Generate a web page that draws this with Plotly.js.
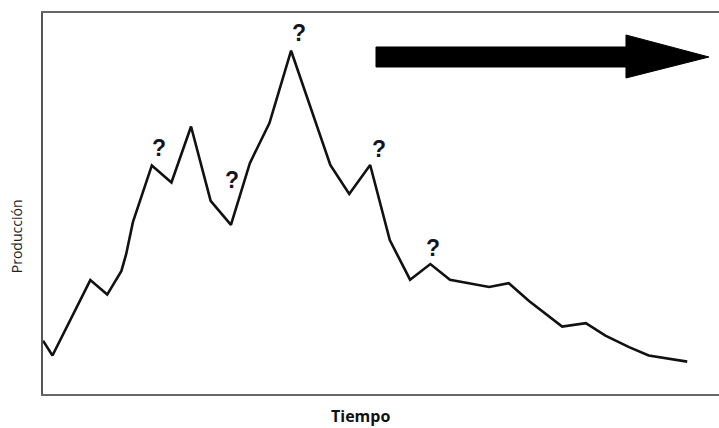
<!DOCTYPE html>
<html>
<head>
<meta charset="utf-8">
<script src="https://cdn.plot.ly/plotly-3.0.1.min.js"></script>
<style>html,body{margin:0;padding:0;background:#fff}#chart{width:719px;height:428px}</style>
</head>
<body>
<div id="chart"></div>
<script>
// Time (arbitrary units, 0-100) and production (arbitrary units, 0-100)
const tiempo = [0, 1.4, 7.0, 9.5, 11.6, 12.3, 13.3, 16.1, 19.0, 21.9, 24.8, 27.8, 30.6, 33.5, 36.7, 42.5, 45.3, 48.4, 51.3, 54.3, 57.3, 60.2, 66.0, 68.9, 71.9, 76.8, 80.3, 83.2, 86.7, 89.6, 95.3];
const produccion = [14.0, 10.1, 29.9, 26.1, 32.3, 36.7, 45.1, 60.0, 55.5, 70.2, 50.7, 44.4, 60.6, 71.1, 90.1, 60.1, 52.5, 60.1, 40.4, 30.0, 34.1, 30.0, 28.1, 29.1, 24.4, 17.7, 18.6, 15.3, 12.3, 10.1, 8.5];
// Question-mark labels near the peaks
const preguntaT = [17.2, 28.0, 37.9, 49.7, 57.7];
const preguntaV = [64.6, 56.2, 94.8, 64.3, 38.3];
const preguntaTexto = ["?", "?", "?", "?", "?"];

const trace = {
  x: tiempo, y: produccion, type: 'scatter', mode: 'lines',
  line: {color: '#111', width: 2.6}, hoverinfo: 'skip'
};

const annotations = preguntaT.map((t, i) => ({
  x: t, y: preguntaV[i], xref: 'x', yref: 'y', text: preguntaTexto[i],
  showarrow: false, font: {family: 'Liberation Sans, Arial, sans-serif', size: 23, color: '#15151f', weight: 'bold'}
}));
annotations.push({
  x: -0.038, y: 0.415, xref: 'paper', yref: 'paper', text: 'Producción', textangle: -90,
  showarrow: false, xanchor: 'center', yanchor: 'middle',
  font: {family: 'Open Sans, sans-serif', size: 14, color: '#222'}
});
annotations.push({
  x: 0.470, y: -0.058, xref: 'paper', yref: 'paper', text: 'Tiempo',
  showarrow: false, xanchor: 'center', yanchor: 'middle',
  font: {family: 'Open Sans, sans-serif', size: 16, color: '#111', weight: 'bold'}
});

const layout = {
  width: 719, height: 428,
  margin: {l: 43, r: 0, t: 13, b: 34},
  paper_bgcolor: '#fff', plot_bgcolor: '#fff',
  showlegend: false,
  xaxis: {
    range: [0, 100], showgrid: false, zeroline: false, showticklabels: false, ticks: '',
    showline: true, linecolor: '#666', linewidth: 2, mirror: true
  },
  yaxis: {
    range: [0, 100], showgrid: false, zeroline: false, showticklabels: false, ticks: '',
    showline: true, linecolor: '#555', linewidth: 2.5
  },
  shapes: [{
    type: 'path', xref: 'paper', yref: 'paper',
    path: 'M 0.4926 0.9108 L 0.8624 0.9108 L 0.8624 0.9423 L 0.9852 0.8845 L 0.8624 0.8294 L 0.8624 0.8583 L 0.4926 0.8583 Z',
    fillcolor: '#000', line: {color: '#000', width: 1}
  }],
  annotations: annotations
};

Plotly.newPlot('chart', [trace], layout, {displayModeBar: false, staticPlot: true});
</script>
</body>
</html>
